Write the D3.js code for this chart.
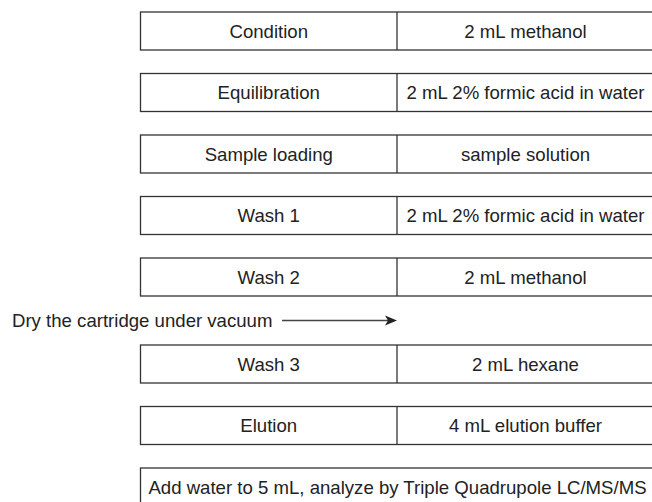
<!DOCTYPE html>
<html>
<head>
<meta charset="utf-8">
<script src="https://cdn.jsdelivr.net/npm/d3@7/dist/d3.min.js"></script>
<style>
  html, body { margin: 0; padding: 0; background: #fff; }
  svg { display: block; }
  text { font-family: "Liberation Sans", Arial, sans-serif; fill: #222; }
</style>
</head>
<body>
<svg id="chart" width="652" height="502"></svg>
<script>
// ---- data ----
const steps = ["Condition", "Equilibration", "Sample loading", "Wash 1", "Wash 2", "Wash 3", "Elution"];
const reagents = ["2 mL methanol", "2 mL 2% formic acid in water", "sample solution",
                  "2 mL 2% formic acid in water", "2 mL methanol", "2 mL hexane", "4 mL elution buffer"];
const dryNote = "Dry the cartridge under vacuum";
const dryAfterIndex = 4;   // note comes after "Wash 2"
const finalStep = "Add water to 5 mL, analyze by Triple Quadrupole LC/MS/MS";

// ---- layout ----
const svg = d3.select("#chart");
const fs = 18.6;
const boxH = 38, pitch = 61.5, top0 = 12, extraGap = 25.5;
const xScale = d3.scaleLinear().domain([0, 1, 2]).range([140.5, 397, 660]);
const rowTop = i => top0 + i * pitch + (i > dryAfterIndex ? extraGap : 0);
const stroke = "#333", sw = 1.3;

const rows = steps.map((s, i) => ({ step: s, reagent: reagents[i], i }));

const g = svg.append("g");
const row = g.selectAll("g.row").data(rows).join("g").attr("class", "row")
  .attr("transform", d => `translate(0,${rowTop(d.i)})`);

row.append("rect")
  .attr("x", xScale(0)).attr("y", 0)
  .attr("width", xScale(2) - xScale(0)).attr("height", boxH)
  .attr("fill", "none").attr("stroke", stroke).attr("stroke-width", sw);
row.append("line")
  .attr("x1", xScale(1)).attr("x2", xScale(1)).attr("y1", 0).attr("y2", boxH)
  .attr("stroke", stroke).attr("stroke-width", sw);
row.append("text")
  .attr("x", (xScale(0) + xScale(1)) / 2).attr("y", boxH / 2 + 6.5)
  .attr("text-anchor", "middle").attr("font-size", fs)
  .text(d => d.step);
row.append("text")
  .attr("x", (xScale(1) + xScale(2)) / 2 - 3).attr("y", boxH / 2 + 6.5)
  .attr("text-anchor", "middle").attr("font-size", fs)
  .text(d => d.reagent);

// final box
const fTop = rowTop(steps.length);
g.append("rect")
  .attr("x", xScale(0)).attr("y", fTop)
  .attr("width", xScale(2) - xScale(0)).attr("height", boxH)
  .attr("fill", "none").attr("stroke", stroke).attr("stroke-width", sw);
g.append("text")
  .attr("x", 397.5).attr("y", fTop + boxH / 2 + 6.5)
  .attr("text-anchor", "middle").attr("font-size", fs)
  .text(finalStep);

// dry note with arrow
const dryY = rowTop(dryAfterIndex) + boxH + (rowTop(dryAfterIndex + 1) - rowTop(dryAfterIndex) - boxH) / 2;
g.append("text")
  .attr("x", 12).attr("y", dryY + 6)
  .attr("font-size", fs)
  .text(dryNote);
const ax1 = 282, ax2 = 397;
g.append("line")
  .attr("x1", ax1).attr("x2", ax2 - 8).attr("y1", dryY).attr("y2", dryY)
  .attr("stroke", "#444").attr("stroke-width", 1.3);
g.append("path")
  .attr("d", `M${ax2},${dryY} L${ax2 - 12},${dryY - 5} L${ax2 - 9},${dryY} L${ax2 - 12},${dryY + 5} Z`)
  .attr("fill", "#222");
</script>
</body>
</html>
